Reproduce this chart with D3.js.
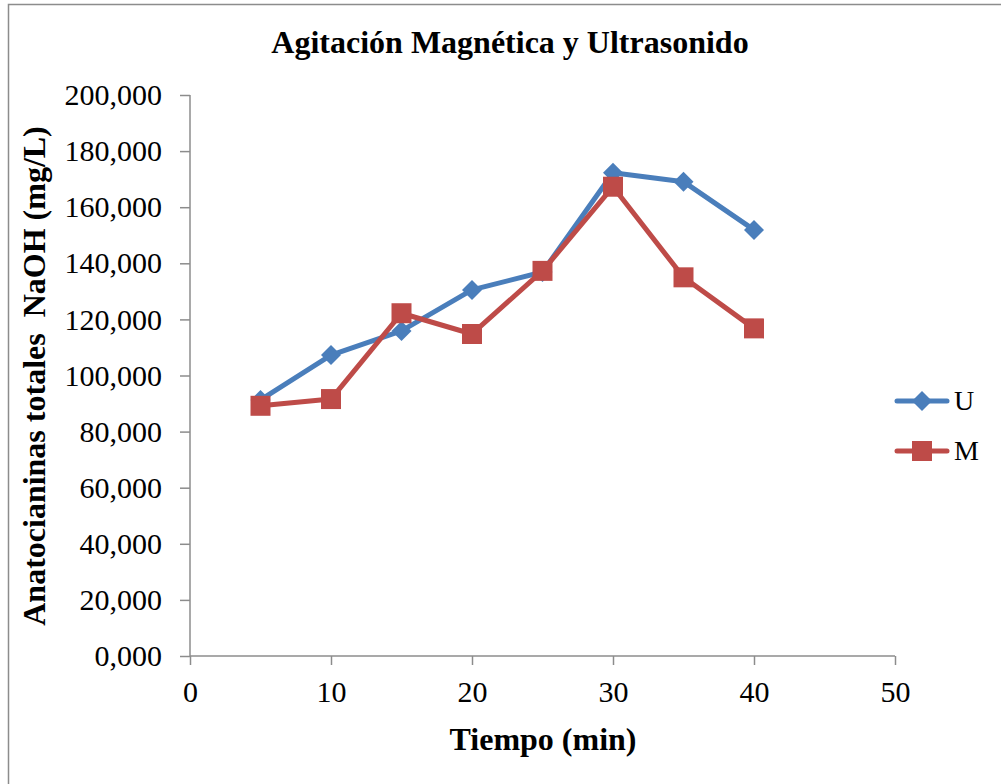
<!DOCTYPE html>
<html>
<head>
<meta charset="utf-8">
<script src="https://cdn.jsdelivr.net/npm/d3@7/dist/d3.min.js"></script>
<style>
  html, body { margin: 0; padding: 0; background: #fff; overflow: hidden; }
  svg text { font-family: "Liberation Serif", "Times New Roman", serif; fill: #000; }
</style>
</head>
<body>
<svg id="chart" width="1001" height="784"></svg>
<script>
// Tiempo (min)
const tiempo = [5, 10, 15, 20, 25, 30, 35, 40];
// Anatocianinas totales NaOH (mg/L), in thousands
const serieU = [91.3, 107.3, 115.9, 130.5, 136.9, 172.3, 169.1, 151.9];
const serieM = [89.2, 91.6, 122.2, 114.8, 137.3, 167.3, 135.0, 116.8];
const xTicks = [0, 10, 20, 30, 40, 50];
const yTicks = [0, 20, 40, 60, 80, 100, 120, 140, 160, 180, 200];

const svg = d3.select("#chart");
const W = 1001, H = 784;
const plot = { left: 190, right: 895, top: 95, bottom: 656 };
const axisGrey = "#8c8c8c";

// chart-area frame (runs past the right and bottom edges of the page)
svg.append("rect")
  .attr("x", 8.5).attr("y", 4.5)
  .attr("width", W + 20).attr("height", H + 20)
  .attr("fill", "#fff").attr("stroke", axisGrey).attr("stroke-width", 1.5);

const x = d3.scaleLinear().domain([0, 50]).range([plot.left, plot.right]);
const y = d3.scaleLinear().domain([0, 200]).range([plot.bottom, plot.top]);

// 200 -> "200,000"
const yLabel = v => v.toFixed(3).replace(".", ",");

// y axis
const yAxis = d3.axisLeft(y).tickValues(yTicks).tickSize(10).tickPadding(18).tickFormat(yLabel);
const gy = svg.append("g").attr("transform", `translate(${plot.left},0)`).call(yAxis);
gy.select(".domain").attr("stroke", axisGrey).attr("stroke-width", 1.5).attr("d", `M0,${plot.top}V${plot.bottom}`);
gy.selectAll(".tick line").attr("stroke", axisGrey).attr("stroke-width", 1.5);
gy.selectAll(".tick text").attr("font-size", 30).attr("font-family", "Liberation Serif").attr("fill", "#000");

// x axis
const xAxis = d3.axisBottom(x).tickValues(xTicks).tickSize(9).tickPadding(16).tickFormat(d3.format("d"));
const gx = svg.append("g").attr("transform", `translate(0,${plot.bottom})`).call(xAxis);
gx.select(".domain").attr("stroke", axisGrey).attr("stroke-width", 1.5).attr("d", `M${plot.left},0H${plot.right}`);
gx.selectAll(".tick line").attr("stroke", axisGrey).attr("stroke-width", 1.5);
gx.selectAll(".tick text").attr("font-size", 30).attr("font-family", "Liberation Serif").attr("fill", "#000");

// titles
svg.append("text").attr("x", 510).attr("y", 53).attr("text-anchor", "middle")
  .attr("font-size", 32).attr("font-weight", "bold").text("Agitación Magnética y Ultrasonido");
svg.append("text").attr("x", 543).attr("y", 750).attr("text-anchor", "middle")
  .attr("font-size", 32).attr("font-weight", "bold").text("Tiempo (min)");
svg.append("text").attr("transform", `translate(45,376) rotate(-90)`).attr("text-anchor", "middle")
  .attr("font-size", 32).attr("font-weight", "bold").attr("xml:space", "preserve")
  .text("Anatocianinas totales  NaOH (mg/L)");

const blue = "#4a7ebb", red = "#be4b48";
const line = d3.line().x(d => x(d[0])).y(d => y(d[1]));
const dataU = tiempo.map((t, i) => [t, serieU[i]]);
const dataM = tiempo.map((t, i) => [t, serieM[i]]);

// diamond = square turned 45°
const diamondPath = d3.symbol().type(d3.symbolSquare).size(200)();
const squarePath = d3.symbol().type(d3.symbolSquare).size(400)();

function drawSeries(data, color, path, rot) {
  svg.append("path").datum(data).attr("d", line)
    .attr("fill", "none").attr("stroke", color).attr("stroke-width", 5).attr("stroke-linejoin", "round");
  svg.append("g").selectAll("path").data(data).enter().append("path")
    .attr("d", path)
    .attr("transform", d => `translate(${x(d[0])},${y(d[1])}) rotate(${rot})`)
    .attr("fill", color);
}
drawSeries(dataU, blue, diamondPath, 45);
drawSeries(dataM, red, squarePath, 0);

// legend
const legend = [
  { name: "U", color: blue, yy: 401, path: diamondPath, rot: 45 },
  { name: "M", color: red, yy: 451, path: squarePath, rot: 0 }
];
legend.forEach(l => {
  svg.append("line").attr("x1", 897).attr("x2", 947).attr("y1", l.yy).attr("y2", l.yy)
    .attr("stroke", l.color).attr("stroke-width", 5).attr("stroke-linecap", "round");
  svg.append("path").attr("fill", l.color).attr("d", l.path)
    .attr("transform", `translate(922,${l.yy}) rotate(${l.rot})`);
  svg.append("text").attr("x", 954).attr("y", l.yy + 9).attr("font-size", 28).text(l.name);
});
</script>
</body>
</html>
